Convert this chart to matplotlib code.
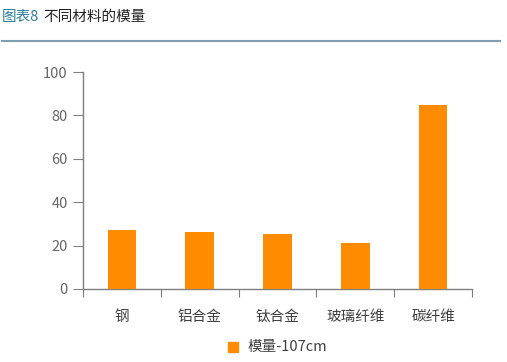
import matplotlib.pyplot as plt
import numpy as np

plt.rcParams['font.family'] = ['Noto Sans CJK SC', 'DejaVu Sans']

# data
materials = ['钢', '铝合金', '钛合金', '玻璃纤维', '碳纤维']
modulus = [27.2, 26.2, 25.3, 21.2, 85.0]
series_name = '模量-107cm'
yticks = [0, 20, 40, 60, 80, 100]

fig = plt.figure(figsize=(5.07, 3.62), dpi=100)
W, H = 507, 362
ax = fig.add_axes([83 / W, 1 - 289 / H, (472 - 83) / W, (289 - 72) / H])

x = np.arange(len(materials))
ax.bar(x, modulus, width=0.37, color='#ff8c00', zorder=3)

ax.set_xlim(-0.5, len(materials) - 0.5)
ax.set_ylim(0, 100)

for s in ['top', 'right']:
    ax.spines[s].set_visible(False)
for s in ['left', 'bottom']:
    ax.spines[s].set_color('#7f7f7f')
    ax.spines[s].set_linewidth(1.0)

ax.set_yticks(yticks)
ax.set_yticklabels([str(v) for v in yticks])
ax.tick_params(axis='y', length=7, color='#7f7f7f', labelcolor='#666666',
               labelsize=10.5, pad=4)

# boundary ticks as major, labels on minor
ax.set_xticks(np.arange(len(materials) + 1) - 0.5)
ax.set_xticklabels([])
ax.set_xticks(x, minor=True)
ax.set_xticklabels(materials, minor=True)
ax.tick_params(axis='x', which='major', length=6, color='#7f7f7f')
ax.tick_params(axis='x', which='minor', length=0, labelsize=10.5,
               labelcolor='#404040', pad=15)

# legend
fig.patches.append(plt.Rectangle((228 / W, 1 - 352 / H), 10 / W, 10 / H,
                                 transform=fig.transFigure, color='#ff8c00'))
fig.text(248 / W, 1 - 347 / H, series_name, fontsize=10.5, color='#404040',
         va='center', ha='left')

# header
fig.text(2 / W, 1 - 17 / H, '图表8', fontsize=10.5, color='#2a7f9a',
         va='center', ha='left')
fig.text(43 / W, 1 - 17 / H, '不同材料的模量', fontsize=10.5, color='#222222',
         va='center', ha='left')
fig.add_artist(plt.Line2D([2 / W, 500 / W], [1 - 41 / H, 1 - 41 / H],
                          transform=fig.transFigure, color='#7f9fb0', lw=1.5))

fig.savefig('out.png', dpi=100)
